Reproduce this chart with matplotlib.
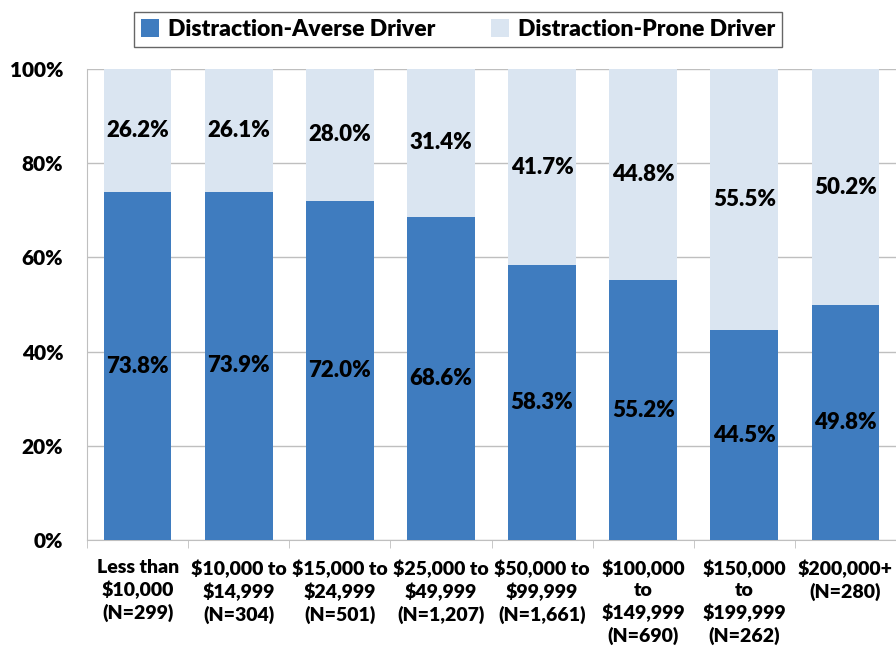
import matplotlib.pyplot as plt
import numpy as np

categories = [
    "Less than\n$10,000\n(N=299)",
    "$10,000 to\n$14,999\n(N=304)",
    "$15,000 to\n$24,999\n(N=501)",
    "$25,000 to\n$49,999\n(N=1,207)",
    "$50,000 to\n$99,999\n(N=1,661)",
    "$100,000\nto\n$149,999\n(N=690)",
    "$150,000\nto\n$199,999\n(N=262)",
    "$200,000+\n(N=280)",
]
averse = [73.8, 73.9, 72.0, 68.6, 58.3, 55.2, 44.5, 49.8]
prone = [26.2, 26.1, 28.0, 31.4, 41.7, 44.8, 55.5, 50.2]
yticks = [0, 20, 40, 60, 80, 100]

plt.rcParams['font.family'] = ['Lato', 'DejaVu Sans']
WT = "heavy"

fig = plt.figure(figsize=(8.96, 6.55), dpi=100)
ax = fig.add_axes([87 / 896, 1 - 540 / 655, (896 - 87) / 896, (540 - 69) / 655])

x = np.arange(len(categories))
w = 0.67
b1 = ax.bar(x, averse, w, color="#3f7cbf", label="Distraction-Averse Driver", zorder=3)
b2 = ax.bar(x, prone, w, bottom=averse, color="#dae5f1", label="Distraction-Prone Driver", zorder=3)

for i in range(len(x)):
    ax.text(x[i], averse[i] / 2, f"{averse[i]:.1f}%", ha="center", va="center",
            fontsize=16, fontweight=WT, zorder=4)
    ax.text(x[i], averse[i] + prone[i] / 2, f"{prone[i]:.1f}%", ha="center", va="center",
            fontsize=16, fontweight=WT, zorder=4)

ax.set_xlim(-0.5, len(x) - 0.5)
ax.set_ylim(0, 100)
ax.set_yticks(yticks)
ax.set_yticklabels([f"{t}%" for t in yticks], fontsize=15, fontweight=WT)
ax.yaxis.grid(True, color="#bfbfbf", linewidth=1, zorder=0)
ax.tick_params(axis="y", length=0, pad=17)

ax.set_xticks(x)
ax.set_xticklabels(categories, fontsize=14, fontweight=WT, va="top", linespacing=1.3)
ax.set_xticks(np.arange(len(x) + 1) - 0.5, minor=True)
ax.tick_params(axis="x", which="major", length=0, pad=14)
ax.tick_params(axis="x", which="minor", length=6, color="#bfbfbf", direction="out")

for s in ["top", "right"]:
    ax.spines[s].set_visible(False)
ax.spines["left"].set_color("#bfbfbf")
ax.spines["bottom"].set_color("#bfbfbf")

leg = fig.legend(handles=[b1, b2], loc="center", bbox_to_anchor=(458 / 896, 1 - 29.5 / 655),
                 ncol=2, frameon=True, fancybox=False, edgecolor="#404040",
                 prop={"size": 16.5, "weight": WT}, handlelength=0.8, handleheight=0.8,
                 columnspacing=2.4, handletextpad=0.4, borderpad=0.3, borderaxespad=0)
leg.get_frame().set_linewidth(1)

fig.savefig("out.png", dpi=100)
